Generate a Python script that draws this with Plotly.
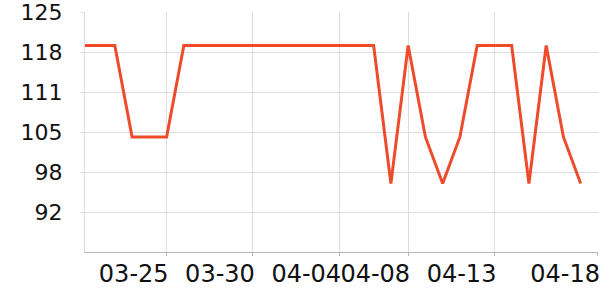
import plotly.graph_objects as go

dates = [
    "2024-03-20", "2024-03-21", "2024-03-22", "2024-03-23", "2024-03-24",
    "2024-03-25", "2024-03-26", "2024-03-27", "2024-03-28", "2024-03-29",
    "2024-03-30", "2024-03-31", "2024-04-01", "2024-04-02", "2024-04-03",
    "2024-04-04", "2024-04-05", "2024-04-06", "2024-04-07", "2024-04-08",
    "2024-04-09", "2024-04-10", "2024-04-11", "2024-04-12", "2024-04-13",
    "2024-04-14", "2024-04-15", "2024-04-16", "2024-04-17", "2024-04-18",
]
values = [
    119.5, 119.5, 119.5, 104.4, 104.4,
    104.4, 119.5, 119.5, 119.5, 119.5,
    119.5, 119.5, 119.5, 119.5, 119.5,
    119.5, 119.5, 119.5, 96.7, 119.5,
    104.4, 96.7, 104.4, 119.5, 119.5,
    119.5, 96.7, 119.5, 104.4, 96.7,
]

x_tick_values = ["2024-03-25", "2024-03-30", "2024-04-04", "2024-04-08", "2024-04-13", "2024-04-19"]
x_tick_labels = ["03-25", "03-30", "04-04", "04-08", "04-13", "04-18"]
x_range = ["2024-03-20 06:30", "2024-04-19 00:05"]

y_tick_values = [92.0, 98.6, 105.2, 111.8, 118.4, 125.0]
y_tick_labels = ["92", "98", "105", "111", "118", "125"]
y_range = [85.4, 125.03]

fig = go.Figure()
fig.add_trace(go.Scatter(
    x=dates, y=values, mode="lines",
    line=dict(color="#ee4b2b", width=3),
    hoverinfo="skip",
))

yfont = dict(family="DejaVu Sans", size=22, color="#111111")
xfont = dict(family="DejaVu Sans", size=24, color="#111111")

fig.update_layout(
    width=600, height=300,
    margin=dict(l=85, r=0, t=10, b=48),
    paper_bgcolor="white", plot_bgcolor="white",
    showlegend=False,
    font=yfont,
)
fig.update_xaxes(
    type="date", range=x_range,
    tickmode="array", tickvals=x_tick_values, ticktext=x_tick_labels,
    ticklabelposition="outside left", tickangle=0,
    ticklabeloverflow="allow", ticklabelshift=3,
    showgrid=True, gridcolor="#dddddd", gridwidth=1,
    showline=True, linecolor="#b5b5b5", linewidth=1,
    ticks="outside", ticklen=3, tickcolor="#b5b5b5",
    zeroline=False, tickfont=xfont,
)
fig.update_yaxes(
    range=y_range,
    tickmode="array", tickvals=y_tick_values, ticktext=y_tick_labels,
    ticklabeloverflow="allow",
    showgrid=True, gridcolor="#dddddd", gridwidth=1,
    showline=True, linecolor="#dddddd", linewidth=1,
    ticks="outside", ticklen=3, tickcolor="#dddddd",
    ticklabelstandoff=14,
    zeroline=False, tickfont=yfont,
)

fig.write_html("out.html")
